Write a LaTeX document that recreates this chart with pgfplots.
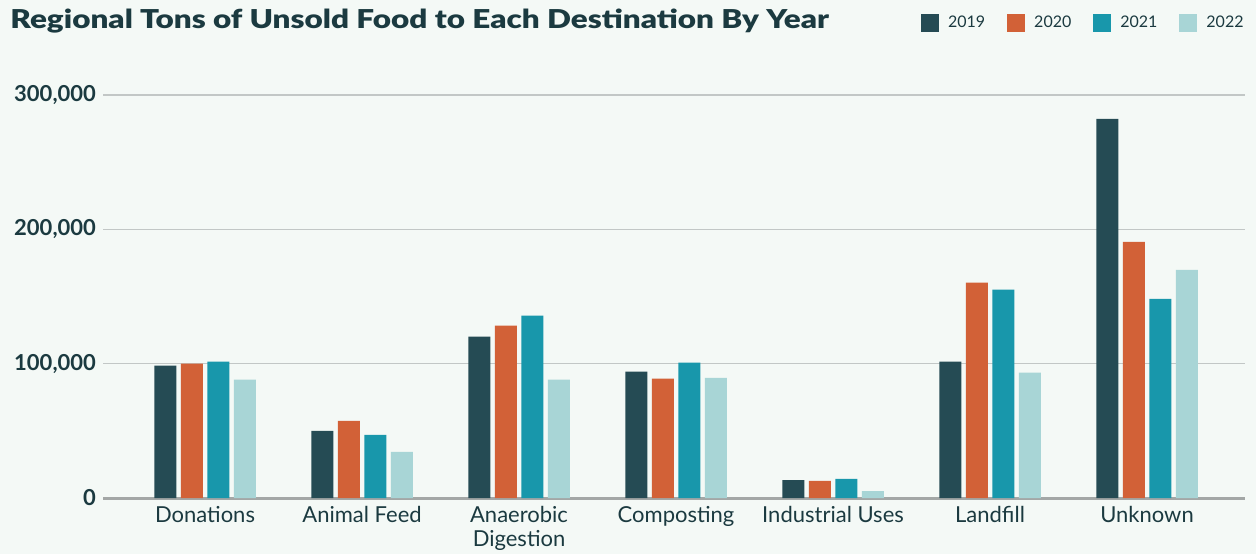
\documentclass[border=0pt]{standalone}
\usepackage{pgfplots}
\pgfplotsset{compat=1.18}
\usepackage{pgfplotstable}
\usepackage{fontspec}
\setmainfont{Lato}
\newfontfamily\titlefont{Lato Black}[FakeStretch=1.21]

\definecolor{bgcol}{HTML}{F4F9F6}
\definecolor{textcol}{HTML}{1B3A40}
\definecolor{gridcol}{HTML}{C2C7C6}
\definecolor{basecol}{HTML}{A3A7A6}
\definecolor{c2019}{HTML}{254B54}
\definecolor{c2020}{HTML}{D26137}
\definecolor{c2021}{HTML}{1897AB}
\definecolor{c2022}{HTML}{A8D5D6}

% tons per destination, one row per destination
\pgfplotstableread{
x y2019 y2020 y2021 y2022
0 98500 100000 101500 88100
1 50000 57500 47000 34300
2 120100 128400 135800 88100
3 94000 88800 100700 89500
4 13400 12700 14200 5200
5 101500 160400 155200 93300
6 282200 190600 148200 169800
}\tons

\begin{document}
\begin{tikzpicture}[x=1pt,y=1pt]
\fill[bgcol] (0,0) rectangle (628,277);
\node[anchor=base west, inner sep=0pt, text=textcol,
      font=\titlefont\fontsize{13}{15}\selectfont] at (5,263)
      {Regional Tons of Unsold Food to Each Destination By Year};
\begin{axis}[
    at={(51.5pt,28pt)}, anchor=south west,
    scale only axis,
    width=571pt, height=201.5pt,
    xmin=-0.65, xmax=6.624,
    ymin=0, ymax=300000,
    ybar=2.25pt, bar width=11pt,
    axis x line*=bottom, axis y line*=left,
    x axis line style={draw=basecol, line width=1.5pt, -},
    y axis line style={draw=none},
    major tick length=0pt,
    xtick=data,
    xticklabels={Donations, Animal Feed, Anaerobic\\Digestion, Composting,
                 Industrial Uses, Landfill, Unknown},
    xticklabel style={align=center, text=textcol,
                      font=\fontsize{11}{12}\selectfont, yshift=-0.5pt},
    ytick={0,100000,200000,300000},
    yticklabels={0,{100,000},{200,000},{300,000}},
    scaled y ticks=false,
    yticklabel style={text=textcol, font=\bfseries\fontsize{11}{12}\selectfont},
    ymajorgrids,
    grid style={draw=gridcol, line width=0.75pt},
    legend columns=-1,
    legend style={at={(1.0026,1.1787)}, anchor=east, draw=none, fill=none,
                  inner sep=0pt, text=textcol,
                  font=\fontsize{8}{10}\selectfont,
                  /tikz/every odd column/.append style={column sep=2.5pt},
                  /tikz/every even column/.append style={column sep=9pt}},
    legend image code/.code={\fill[#1,draw=none] (0pt,-4.5pt) rectangle (9pt,4.5pt);},
]
\addplot[fill=c2019, draw=none] table[x=x, y=y2019] {\tons};
\addplot[fill=c2020, draw=none] table[x=x, y=y2020] {\tons};
\addplot[fill=c2021, draw=none] table[x=x, y=y2021] {\tons};
\addplot[fill=c2022, draw=none] table[x=x, y=y2022] {\tons};
\legend{2019,2020,2021,2022}
\end{axis}
\pgfresetboundingbox
\useasboundingbox (0,0) rectangle (628,277);
\end{tikzpicture}
\end{document}
